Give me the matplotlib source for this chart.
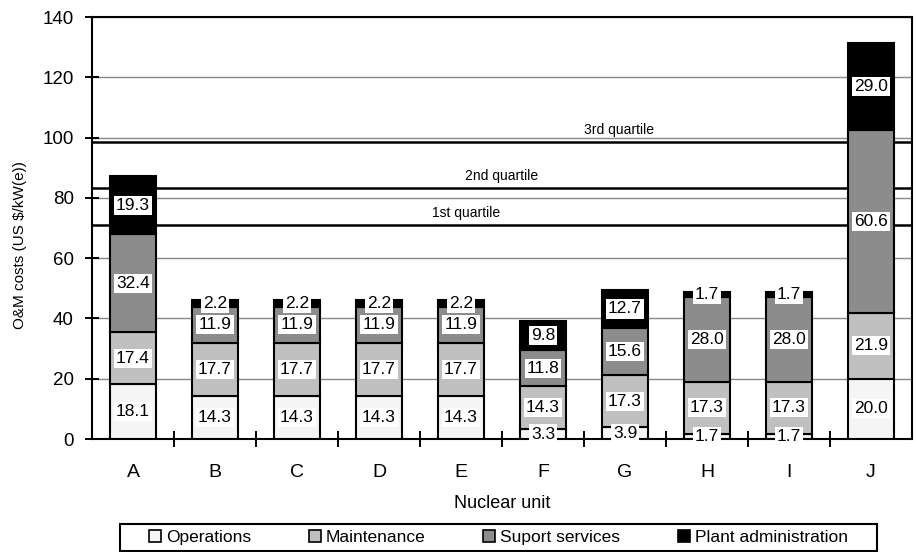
import numpy as np
import matplotlib.pyplot as plt
from matplotlib.patches import Patch, Rectangle

plt.rcParams['font.family'] = ['Liberation Sans', 'DejaVu Sans']

# Data
units = ['A', 'B', 'C', 'D', 'E', 'F', 'G', 'H', 'I', 'J']
operations = [18.1, 14.3, 14.3, 14.3, 14.3, 3.3, 3.9, 1.7, 1.7, 20.0]
maintenance = [17.4, 17.7, 17.7, 17.7, 17.7, 14.3, 17.3, 17.3, 17.3, 21.9]
support = [32.4, 11.9, 11.9, 11.9, 11.9, 11.8, 15.6, 28.0, 28.0, 60.6]
admin = [19.3, 2.2, 2.2, 2.2, 2.2, 9.8, 12.7, 1.7, 1.7, 29.0]
series_names = ['Operations', 'Maintenance', 'Suport services', 'Plant administration']
quartiles = [71.0, 83.3, 98.4]
quartile_names = ['1st quartile', '2nd quartile', '3rd quartile']
quartile_label_x = [4.06, 4.49, 5.93]

colors = ['#f5f5f5', '#c0c0c0', '#8c8c8c', '#000000']

fig = plt.figure(figsize=(9.16, 5.52), dpi=100)
ax = fig.add_axes([92 / 916, 113 / 552, 820 / 916, 422 / 552])

x = np.arange(len(units))
bottom = np.zeros(len(units))
for vals, col, name in zip([operations, maintenance, support, admin], colors, series_names):
    vals = np.array(vals)
    ax.bar(x, vals, 0.55, bottom=bottom, color=col, edgecolor='black', linewidth=1.5, zorder=3, label=name)
    for xi, b, v in zip(x, bottom, vals):
        ax.text(xi, b + v / 2, f'{v:.1f}', ha='center', va='center', fontsize=12.5, zorder=5,
                bbox=dict(facecolor='white', edgecolor='none', pad=1.5))
    bottom += vals

# quartile lines (behind the bars)
for q, name, lx in zip(quartiles, quartile_names, quartile_label_x):
    ax.axhline(q, color='black', linewidth=1.8, zorder=2)
    ax.text(lx, q + 2.7, name, ha='center', va='baseline', fontsize=10, zorder=2)

ax.set_xlim(-0.5, len(units) - 0.5)
ax.set_ylim(0, 140)
ax.set_yticks(np.arange(0, 141, 20))
ax.yaxis.grid(True, color='#888888', linewidth=1.0, zorder=0)
ax.set_axisbelow(True)

ax.set_xticks(x)
ax.set_xticklabels(units, fontsize=14)
ax.set_xticks(np.arange(0.5, len(units) - 0.5), minor=True)
ax.tick_params(axis='x', which='major', length=0, pad=18)
ax.tick_params(axis='x', which='minor', direction='inout', length=11, width=1.4)
ax.tick_params(axis='y', direction='inout', length=10, width=1.4, labelsize=13.5, pad=8)

for s in ax.spines.values():
    s.set_linewidth(1.5)

ax.set_xlabel('Nuclear unit', fontsize=13, labelpad=10)
ax.set_ylabel('O&M costs (US $/kW(e))', fontsize=11)
ax.yaxis.set_label_coords(-0.079, 0.46)

# legend: entries without frame, plus a drawn box
handles = [Patch(facecolor=c, edgecolor='black', linewidth=1.2) for c in colors]
fig.legend(handles, series_names, loc='center', bbox_to_anchor=(498.5 / 916, 14.5 / 552),
           ncol=4, fontsize=12.5, frameon=False,
           handlelength=0.7, handleheight=0.7, handletextpad=0.3, columnspacing=3.3,
           borderpad=0.0)
fig.patches.append(Rectangle((120 / 916, 1.5 / 552), 757 / 916, 26.5 / 552, transform=fig.transFigure,
                             fill=False, edgecolor='black', linewidth=1.5))

fig.savefig('out.png', dpi=100)
